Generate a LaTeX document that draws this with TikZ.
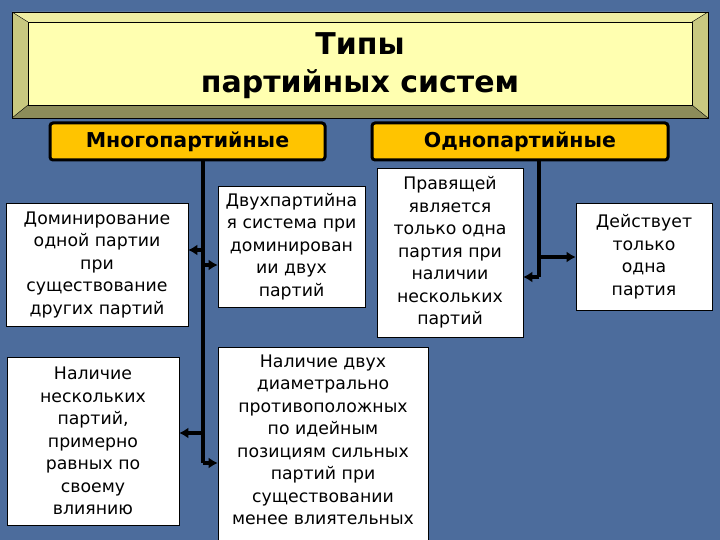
\documentclass[tikz,border=0pt]{standalone}
\usepackage{fontspec}
\setmainfont{DejaVu Sans}
\usetikzlibrary{arrows.meta}
\definecolor{bg}{HTML}{4C6C9C}
\definecolor{pale}{HTML}{FFFFB0}
\definecolor{bevel}{HTML}{C8C880}
\definecolor{gold}{HTML}{FFC400}
\tikzset{
 wbox/.style={draw=black,fill=white,line width=0.6pt,align=center,inner sep=0pt,font=\fontsize{17.3}{22.5}\selectfont},
 hbox/.style={draw=black,fill=gold,line width=3pt,rounded corners=3pt,font=\bfseries\fontsize{20.5}{22}\selectfont,inner sep=0pt},
 conn/.style={line width=3.5pt,-{Latex[length=9pt,width=11pt]}},
 stem/.style={line width=3.5pt}
}
\begin{document}
\begin{tikzpicture}[x=1pt,y=-1pt]
\useasboundingbox (0,0) rectangle (720,540);
\fill[bg] (0,0) rectangle (720,540);
% title bevel
\fill[bevel] (12,12) rectangle (708,118);
\fill[pale!70!bevel] (12,12) -- (708,12) -- (692,22) -- (28,22) -- cycle;
\fill[bevel!70!black] (12,118) -- (708,118) -- (692,105) -- (28,105) -- cycle;
\fill[pale] (28,22) rectangle (692,105);
\draw[line width=0.6pt] (12,12) rectangle (708,118);
\draw[line width=0.6pt] (28,22) rectangle (692,105);
\draw[line width=0.4pt] (12,12)--(28,22) (708,12)--(692,22) (12,118)--(28,105) (708,118)--(692,105);
\node[align=center,font=\bfseries\fontsize{30}{38}\selectfont] (title) at (360,66) {Типы\\партийных систем};
% headers
\node[hbox,minimum width=275,minimum height=37] (multi) at (187.5,141.5) {Многопартийные};
\node[hbox,minimum width=296,minimum height=37] (one) at (520,141.5) {Однопартийные};
% boxes
\node[wbox,minimum width=182,minimum height=123] (b1) at (97,264.5) {Доминирование\\одной партии\\при\\существование\\других партий};
\node[wbox,minimum width=147,minimum height=121] (b2) at (291.5,246.5) {Двухпартийна\\я система при\\доминирован\\ии двух\\партий};
\node[wbox,minimum width=146,minimum height=169] (b3) at (450,252.5) {Правящей\\является\\только одна\\партия при\\наличии\\нескольких\\партий};
\node[wbox,minimum width=136,minimum height=107] (b6) at (644,256.5) {Действует\\только\\одна\\партия};
\node[wbox,minimum width=172,minimum height=168] (b4) at (93,441) {Наличие\\нескольких\\партий,\\примерно\\равных по\\своему\\влиянию};
\node[wbox,minimum width=210,minimum height=196,anchor=north] (b5) at (323,347) {};
\node[align=center,anchor=north,font=\fontsize{17.3}{22.5}\selectfont] (b5t) at (323,351) {Наличие двух\\диаметрально\\противоположных\\по идейным\\позициям сильных\\партий при\\существовании\\менее влиятельных};
% connectors
\coordinate (m1) at (203,250); \coordinate (m2) at (203,265);
\coordinate (m3) at (203,433); \coordinate (m4) at (203,463);
\draw[stem] (multi.south -| m1) -- (m4);
\draw[conn] (m1) -- (b1.east |- m1);
\draw[conn] (m2) -- (b2.west |- m2);
\draw[conn] (m3) -- (b4.east |- m3);
\draw[conn] (m4) -- (b5.west |- m4);
\coordinate (o1) at (539,257); \coordinate (o2) at (539,277);
\draw[stem] (one.south -| o1) -- (o2);
\draw[conn] (o1) -- (b6.west |- o1);
\draw[conn] (o2) -- (b3.east |- o2);
\end{tikzpicture}
\end{document}
